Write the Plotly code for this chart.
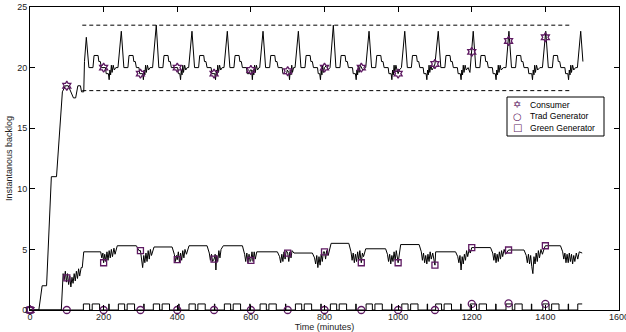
import plotly.graph_objects as go

# ---------------- data ----------------
cons_t = [0, 24, 33, 45, 58, 72, 88, 96, 104, 110, 118, 124, 130, 137, 140, 146, 148,
          153, 160, 171, 174, 185, 187, 191, 194, 205, 207, 213, 215, 217, 219, 221, 223, 226, 229, 233, 239,
          248, 255, 266, 269, 280, 282, 286, 289, 296, 298, 306, 308, 310, 312, 314, 316, 319, 322, 326, 333,
          343, 350, 361, 364, 375, 377, 381, 384, 401, 403, 407, 409, 411, 413, 415, 417, 420, 423, 427, 431,
          440, 447, 458, 461, 472, 474, 478, 481, 492, 494, 502, 504, 506, 508, 510, 512, 515, 518, 522, 527,
          536, 543, 554, 557, 568, 570, 574, 577, 588, 590, 596, 598, 602, 604, 606, 608, 610, 612, 615, 618, 622, 624,
          633, 640, 651, 654, 665, 667, 671, 674, 685, 687, 697, 699, 703, 705, 707, 709, 711, 713, 716, 720,
          729, 736, 747, 750, 761, 763, 767, 770, 781, 783, 787, 789, 791, 793, 795, 797, 800, 806, 809, 815,
          824, 831, 842, 845, 856, 858, 862, 865, 876, 878, 884, 886, 888, 890, 892, 894, 897, 900, 904, 912,
          921, 928, 939, 942, 953, 955, 959, 962, 973, 975, 981, 983, 985, 987, 989, 991, 994, 997, 1000, 1003, 1009,
          1018, 1025, 1036, 1039, 1050, 1052, 1056, 1059, 1068, 1070, 1076, 1078, 1080, 1082, 1084, 1086, 1089, 1092, 1096, 1100,
          1109, 1116, 1127, 1130, 1141, 1143, 1147, 1150, 1161, 1163, 1169, 1171, 1173, 1175, 1177, 1179, 1182, 1185, 1190, 1195,
          1204, 1211, 1222, 1225, 1236, 1238, 1242, 1245, 1256, 1258, 1264, 1266, 1268, 1270, 1272, 1274, 1277, 1280, 1286, 1293,
          1301, 1308, 1319, 1322, 1333, 1335, 1339, 1342, 1353, 1355, 1363, 1365, 1367, 1369, 1371, 1373, 1376, 1379, 1385, 1392,
          1401, 1408, 1419, 1422, 1433, 1435, 1439, 1442, 1453, 1455, 1461, 1463, 1465, 1467, 1469, 1471, 1474, 1477, 1482, 1487,
          1496, 1502]
cons_y = [0, 0, 2, 2, 11, 11, 18, 18.5, 18.5, 18, 17.5, 17.5, 18.5, 18.5, 18, 18, 20.5,
          22.5, 20, 20, 21, 21, 20.5, 20.5, 20, 20, 19.5, 19.5, 19, 19.8, 19.4, 20.2, 19.6, 20.2, 19.8, 20, 20,
          23, 20, 20, 21, 21, 20.5, 20.5, 20, 20, 19.5, 19.5, 19, 19.8, 19.4, 20.2, 19.6, 20.2, 19.8, 20, 20,
          23.5, 20, 20, 21, 21, 20.5, 20.5, 20, 20, 19.5, 19.5, 19, 19.8, 19.4, 20.2, 19.6, 20.2, 19.8, 20, 20,
          23, 20, 20, 21, 21, 20.5, 20.5, 20, 20, 19.5, 19.5, 19, 19.8, 19.4, 20.2, 19.6, 20.2, 19.8, 20, 20,
          23, 20, 20, 21, 21, 20.5, 20.5, 20, 20, 19.5, 19.5, 19.8, 19.8, 19, 19.8, 19.4, 20.2, 19.6, 20.2, 19.8, 20, 20,
          23, 20, 20, 21, 21, 20.5, 20.5, 20, 20, 19.5, 19.5, 19.8, 19.6, 19, 19.8, 19.4, 20.2, 19.6, 20, 20,
          23, 20, 20, 21, 21, 20.5, 20.5, 20, 20, 19.5, 19.5, 19, 19.8, 19.4, 20.2, 19.6, 20, 20.2, 19.8, 20,
          23.5, 20, 20, 21, 21, 20.5, 20.5, 20, 20, 19.5, 19.5, 19, 19.8, 19.4, 20.2, 19.6, 20.2, 20, 19.8, 20,
          23, 20, 20, 21, 21, 20.5, 20.5, 20, 20, 19.5, 19.5, 19, 19.8, 19.4, 20.2, 19.6, 20.2, 19.8, 19.5, 19.8, 20,
          23, 20, 20, 21, 21, 20.5, 20.5, 20, 20, 19.5, 19.5, 19, 19.8, 19.4, 20.2, 19.6, 20.2, 19.8, 20, 20.3,
          23, 20, 20, 21, 21, 20.5, 20.5, 20, 20, 19.5, 19.5, 19, 19.8, 19.4, 20.2, 19.6, 20.2, 19.8, 20, 19.6,
          23, 20, 20, 21, 21, 20.5, 20.5, 20, 20, 19.5, 19.5, 19, 19.8, 19.4, 20.2, 19.6, 20.2, 19.8, 20, 20,
          23, 20, 20, 21, 21, 20.5, 20.5, 20, 20, 19.5, 19.5, 19, 19.8, 19.4, 20.2, 19.6, 20.2, 19.8, 20, 20,
          23, 20, 20, 21, 21, 20.5, 20.5, 20, 20, 19.5, 19.5, 19, 19.8, 19.4, 20.2, 19.6, 20.2, 19.8, 20, 20,
          23, 20.5]

green_pts = [(0, 0), (85, 0), (90, 3), (93, 2.5), (96, 3.2), (99, 2.3), (102, 3), (105, 2.1), (108, 2.8),
             (111, 1.9), (114, 2.7), (117, 2.2), (120, 3), (123, 2.4), (126, 3.2), (129, 2.6), (132, 3.4),
             (135, 2.8), (139, 3.5), (142, 3.5), (146, 4.8), (192, 4.8),
             (195, 4.3), (198, 4.7), (200, 3.9), (203, 4.6), (206, 4.0), (209, 4.8), (212, 4.1), (215, 4.9),
             (218, 4.3), (221, 5.0), (224, 4.4), (228, 5.1), (231, 4.6), (237, 5.3), (289, 5.3),
             (296, 4.9), (300, 4.9), (303, 4.3), (306, 3.5), (309, 4.5), (312, 3.9), (315, 4.7), (318, 4.0),
             (321, 4.9), (324, 4.2), (327, 5.0), (330, 4.5), (337, 5.2), (386, 5.2),
             (392, 4.6), (395, 4.0), (398, 4.5), (400, 4.15), (403, 4.8), (406, 3.9), (409, 4.7), (412, 4.1),
             (415, 4.9), (418, 4.3), (421, 5.0), (425, 4.6), (432, 5.3), (481, 5.3),
             (487, 4.7), (490, 4.1), (493, 4.6), (496, 4.0), (500, 4.2), (503, 4.6), (505, 3.3), (507, 4.5),
             (510, 4.0), (513, 4.9), (516, 4.3), (519, 5.0), (525, 5.3), (577, 5.3),
             (583, 4.6), (586, 4.0), (589, 4.7), (592, 3.9), (595, 4.6), (598, 4.0), (600, 4.1), (603, 4.8),
             (606, 4.0), (609, 4.8), (612, 4.2), (616, 4.8), (622, 4.8), (672, 4.8),
             (678, 4.4), (681, 3.9), (684, 4.6), (687, 4.0), (690, 4.8), (693, 4.2), (696, 4.9), (700, 4.7),
             (703, 4.0), (706, 4.8), (709, 4.3), (712, 4.9), (717, 4.7), (767, 4.7),
             (773, 4.3), (776, 3.8), (779, 4.5), (782, 3.5), (785, 4.4), (788, 3.7), (791, 4.6), (794, 4.0),
             (797, 4.8), (800, 4.8), (803, 4.2), (806, 4.9), (810, 4.5), (818, 5.5), (866, 5.5),
             (872, 4.8), (875, 4.1), (878, 4.7), (881, 3.9), (884, 4.6), (887, 4.0), (890, 4.8), (893, 4.1),
             (896, 4.9), (900, 3.9), (903, 4.7), (906, 4.4), (912, 5.05), (966, 5.05),
             (971, 4.6), (974, 4.0), (977, 4.6), (980, 3.8), (983, 4.5), (986, 4.0), (989, 4.8), (992, 4.1),
             (995, 4.9), (1000, 3.9), (1003, 4.6), (1007, 5.4), (1057, 5.4),
             (1063, 4.8), (1066, 4.1), (1069, 4.7), (1072, 3.9), (1075, 4.5), (1078, 3.8), (1081, 4.6),
             (1084, 4.0), (1087, 4.8), (1090, 4.2), (1094, 4.7), (1100, 3.7), (1102, 4.8), (1156, 4.8),
             (1162, 4.4), (1165, 3.9), (1168, 4.5), (1171, 3.3), (1174, 4.4), (1177, 3.8), (1180, 4.6),
             (1183, 4.1), (1186, 4.9), (1189, 4.4), (1193, 5.0), (1196, 4.7), (1200, 5.15), (1251, 5.15),
             (1257, 4.7), (1260, 4.1), (1263, 4.7), (1266, 3.9), (1269, 4.6), (1272, 4.0), (1275, 4.8),
             (1278, 4.2), (1281, 4.9), (1284, 4.4), (1288, 5.0), (1292, 4.6), (1300, 4.95), (1342, 4.95),
             (1348, 4.5), (1351, 3.9), (1354, 4.6), (1357, 3.8), (1360, 4.5), (1363, 3.6), (1366, 3.0),
             (1369, 4.4), (1372, 3.8), (1375, 4.7), (1378, 4.0), (1381, 4.9), (1384, 4.3), (1388, 5.0),
             (1392, 4.6), (1397, 5.1), (1400, 5.3), (1441, 5.3),
             (1447, 4.8), (1450, 4.2), (1453, 4.7), (1456, 3.9), (1459, 4.6), (1462, 3.9), (1465, 4.7),
             (1468, 4.0), (1471, 4.6), (1474, 3.8), (1477, 4.5), (1480, 4.0), (1484, 4.7), (1488, 4.2),
             (1492, 4.8), (1500, 4.7)]
green_t = [p[0] for p in green_pts]
green_y = [p[1] for p in green_pts]

# trad generator: switching times and the level after each switch (step line)
trad_t = [0, 145, 162, 169, 189, 214, 215, 240, 257, 264, 284, 309, 310,
          335, 352, 359, 379, 404, 405, 432, 449, 456, 476, 501, 502,
          528, 545, 552, 572, 597, 598, 625, 642, 649, 669, 694, 695,
          721, 738, 745, 765, 790, 791, 816, 833, 840, 860, 885, 886,
          913, 930, 937, 957, 982, 983, 1010, 1027, 1034, 1054, 1079, 1080,
          1102, 1118, 1125, 1145, 1170, 1171, 1196, 1213, 1220, 1240, 1265, 1266,
          1293, 1310, 1317, 1337, 1362, 1363, 1393, 1410, 1417, 1437, 1462, 1463,
          1488, 1500]
trad_y = [0] + [0.5, 0, 0.5, 0, 0.5, 0] * 14 + [0.5, 0.5]

bound_t = [142, 1467]
upper_bound = [23.5, 23.5]
lower_t = [142, 1473]
lower_bound = [18.1, 18.1]

marker_t = [0, 100, 200, 300, 400, 500, 600, 700, 800, 900, 1000, 1100, 1200, 1300, 1400]
consumer_mk = [0, 18.5, 20, 19.5, 20, 19.5, 19.8, 19.7, 20, 20, 19.5, 20.3, 21.3, 22.2, 22.5]
trad_mk = [0, 0, 0, 0, 0, 0, 0, 0, 0, 0, 0, 0, 0.5, 0.55, 0.5]
green_mk = [0, 2.65, 3.9, 4.9, 4.15, 4.2, 4.1, 4.7, 4.8, 3.9, 3.9, 3.7, 5.15, 4.95, 5.3]

legend_names = ["Consumer", "Trad Generator", "Green Generator"]
legend_glyphs = ["\u2721", "\u25CB", "\u25A1"]

x_ticks = [0, 200, 400, 600, 800, 1000, 1200, 1400, 1600]
y_ticks = [0, 5, 10, 15, 20, 25]

# ---------------- styles ----------------
PURPLE = "#5e1a62"
FONT = "Liberation Sans, Arial, Helvetica, sans-serif"

fig = go.Figure()
line_style = dict(color="black", width=1)
fig.add_trace(go.Scatter(x=cons_t, y=cons_y, mode="lines", line=line_style, showlegend=False))
fig.add_trace(go.Scatter(x=green_t, y=green_y, mode="lines", line=line_style, showlegend=False))
fig.add_trace(go.Scatter(x=trad_t, y=trad_y, mode="lines", line=dict(color="black", width=1, shape="hv"),
                         showlegend=False))
fig.add_trace(go.Scatter(x=bound_t, y=upper_bound, mode="lines",
                         line=dict(color="black", width=1, dash="4px,3px"), showlegend=False))
fig.add_trace(go.Scatter(x=lower_t, y=lower_bound, mode="lines",
                         line=dict(color="black", width=1, dash="4px,3px"), showlegend=False))

fig.add_trace(go.Scatter(x=marker_t, y=consumer_mk, mode="markers", name="Consumer", cliponaxis=False,
                         marker=dict(symbol="hexagram-open", size=7, color=PURPLE, line=dict(width=1.3, color=PURPLE)),
                         showlegend=False))
fig.add_trace(go.Scatter(x=marker_t, y=trad_mk, mode="markers", name="Trad Generator", cliponaxis=False,
                         marker=dict(symbol="circle-open", size=7, color=PURPLE, line=dict(width=1.3, color=PURPLE)),
                         showlegend=False))
fig.add_trace(go.Scatter(x=marker_t, y=green_mk, mode="markers", name="Green Generator", cliponaxis=False,
                         marker=dict(symbol="square-open", size=6, color=PURPLE, line=dict(width=1.3, color=PURPLE)),
                         showlegend=False))

# ---- legend box drawn as shape + text ----
L, R, T, B = 30, 7, 7, 22
W, H = 626, 332
pw, ph = W - L - R, H - T - B
def px_x(p):
    return (p - L) / pw
def px_y(p):
    return 1 - (p - T) / ph

shapes = [dict(type="rect", xref="paper", yref="paper",
               x0=px_x(507), x1=px_x(604), y0=px_y(136), y1=px_y(97),
               line=dict(color="black", width=1), fillcolor="white", layer="above")]
annotations = []
rows = [104.5, 116, 127.5]
for name, glyph, ry in zip(legend_names, legend_glyphs, rows):
    annotations.append(dict(xref="paper", yref="paper", x=px_x(517), y=px_y(ry), text=glyph,
                            showarrow=False, xanchor="center", yanchor="middle",
                            font=dict(family="DejaVu Sans", size=10, color=PURPLE)))
    annotations.append(dict(xref="paper", yref="paper", x=px_x(528), y=px_y(ry), text=name,
                            showarrow=False, xanchor="left", yanchor="middle",
                            font=dict(family=FONT, size=8.6, color="black")))

axis_common = dict(showline=True, linecolor="black", linewidth=1, mirror="ticks", ticks="inside",
                   ticklen=5, tickwidth=1, tickcolor="black", showgrid=False, zeroline=False,
                   tickfont=dict(family=FONT, size=9, color="#222"), ticklabeloverflow="allow")

fig.update_layout(
    width=W, height=H, margin=dict(l=L, r=R, t=T, b=B, pad=0),
    paper_bgcolor="white", plot_bgcolor="white",
    xaxis=dict(range=[0, 1600], tickvals=x_ticks, ticktext=[str(v) for v in x_ticks],
               ticklabelstandoff=-2,
               title=dict(text="Time (minutes)", font=dict(family=FONT, size=9, color="#222"), standoff=0),
               automargin=False, **axis_common),
    yaxis=dict(range=[0, 25], tickvals=y_ticks, ticktext=[str(v) for v in y_ticks],
               title=dict(text="Instantanous backlog", font=dict(family=FONT, size=9, color="#222"), standoff=3),
               automargin=False, **axis_common),
    shapes=shapes, annotations=annotations, showlegend=False,
)

fig.write_html("out.html")
